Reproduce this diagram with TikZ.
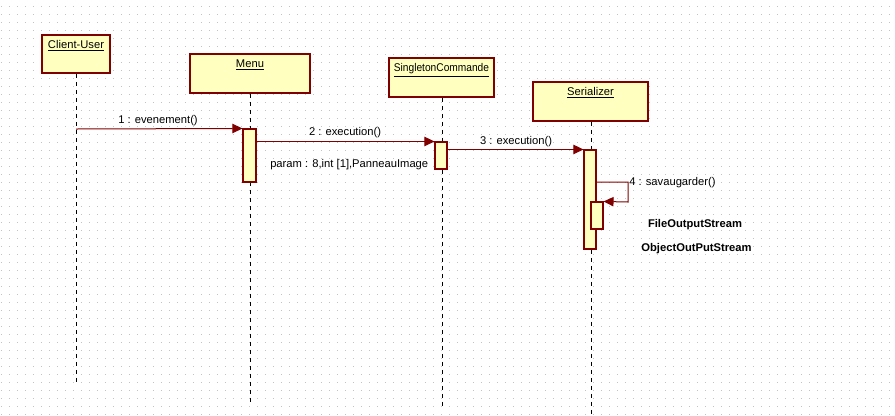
\documentclass[tikz,border=0pt]{standalone}
\usepackage{fontspec}
\usepackage{graphicx}
\setmainfont{Liberation Sans}
\usetikzlibrary{arrows.meta}
\definecolor{umlred}{HTML}{800000}
\definecolor{umlfill}{HTML}{FFFFC0}
\definecolor{dotgray}{HTML}{C4C4C4}
\begin{document}
\begin{tikzpicture}[x=0.75pt,y=-0.75pt,
  every node/.style={font=\fontsize{8.4}{10}\selectfont, inner sep=0pt},
  objbox/.style={draw=umlred, line width=1.2pt, fill=umlfill, rectangle},
  actbox/.style={draw=umlred, line width=0.8pt, fill=umlfill, rectangle, minimum width={12*0.75pt}},
  lifeline/.style={draw=black, line width=0.75pt, dash pattern=on 3pt off 3pt},
  msg/.style={draw=umlred, line width=0.75pt, -{Triangle[length=7.5pt,width=7pt]}},
  dotgrid/.style={draw=dotgray, line width=0.75pt, dash pattern=on 0.75pt off 5.25pt},
  boldtxt/.style={font=\fontsize{8.4}{10}\selectfont\bfseries}]
\useasboundingbox (0,0) rectangle (895,415);
\fill[white] (0,0) rectangle (895,415);
% dotted background grid
\foreach \j in {0,...,51}
  \draw[dotgrid] (1,{6+8*\j}) -- (895,{6+8*\j});

% objects
\node[objbox, minimum width={68*0.75pt}, minimum height={38*0.75pt},
  label={[name=cu-t, anchor=north, yshift=-4.5pt]north:\underline{Client-User}}] (cu) at (76,54) {};
\node[objbox, minimum width={120*0.75pt}, minimum height={39*0.75pt},
  label={[name=menu-t, anchor=north, yshift=-4.5pt]north:\underline{Menu}}] (menu) at (250,73.5) {};
\node[objbox, minimum width={105*0.75pt}, minimum height={39*0.75pt},
  label={[name=sc-t, anchor=north, yshift=-4.5pt]north:\scalebox{0.91}[1]{\underline{SingletonCommande}}}] (sc) at (441.5,77.5) {};
\node[objbox, minimum width={115*0.75pt}, minimum height={39*0.75pt},
  label={[name=ser-t, anchor=north, yshift=-4.5pt]north:\underline{Serializer}}] (ser) at (590.5,101.5) {};

% lifelines
\coordinate (cu-end) at (76,382);
\coordinate (menu-end) at (250,403);
\coordinate (sc-end) at (442,407);
\coordinate (ser-end) at (591,414);
\draw[lifeline] (cu.south) -- (cu-end);
\draw[lifeline] (menu.south) -- (menu-end);
\draw[lifeline] (sc.south -| sc-end) -- (sc-end);
\draw[lifeline] (ser.south -| ser-end) -- (ser-end);

% activations
\node[actbox, minimum width={13*0.75pt}, minimum height={53*0.75pt}] (a1) at (249.5,155.5) {};
\node[actbox, minimum height={27*0.75pt}] (a2) at (441,155.5) {};
\node[actbox, minimum height={99*0.75pt}] (a3) at (590,199.5) {};
\node[actbox, minimum height={27*0.75pt}] (a4) at (597,215.5) {};

% messages
\coordinate (m1s) at (76,129);
\draw[msg] (m1s) -- (a1.north west);
\node (m1l) at (158,121) {1 : evenement()};
\draw[msg] (a1.east |- a2.north west) -- (a2.north west);
\node (m2l) at (345,133) {2 : execution()};
\node[anchor=west] (p2l) at (270,165) {param : 8,int [1],PanneauImage};
\draw[msg] (a2.east |- a3.north west) -- (a3.north west);
\node (m3l) at (516,142) {3 : execution()};
\coordinate (m4a) at (628,182);
\coordinate (m4b) at (628,202);
\draw[msg] (a3.east |- m4a) -- (m4a) -- (m4b) -- (a4.north east);
\node[anchor=west] (m4l) at (629,183) {4 : savaugarder()};

% notes
\node[boldtxt] (fos) at (695,225) {FileOutputStream};
\node[boldtxt] (oos) at (696.5,249) {ObjectOutPutStream};
\end{tikzpicture}
\end{document}
